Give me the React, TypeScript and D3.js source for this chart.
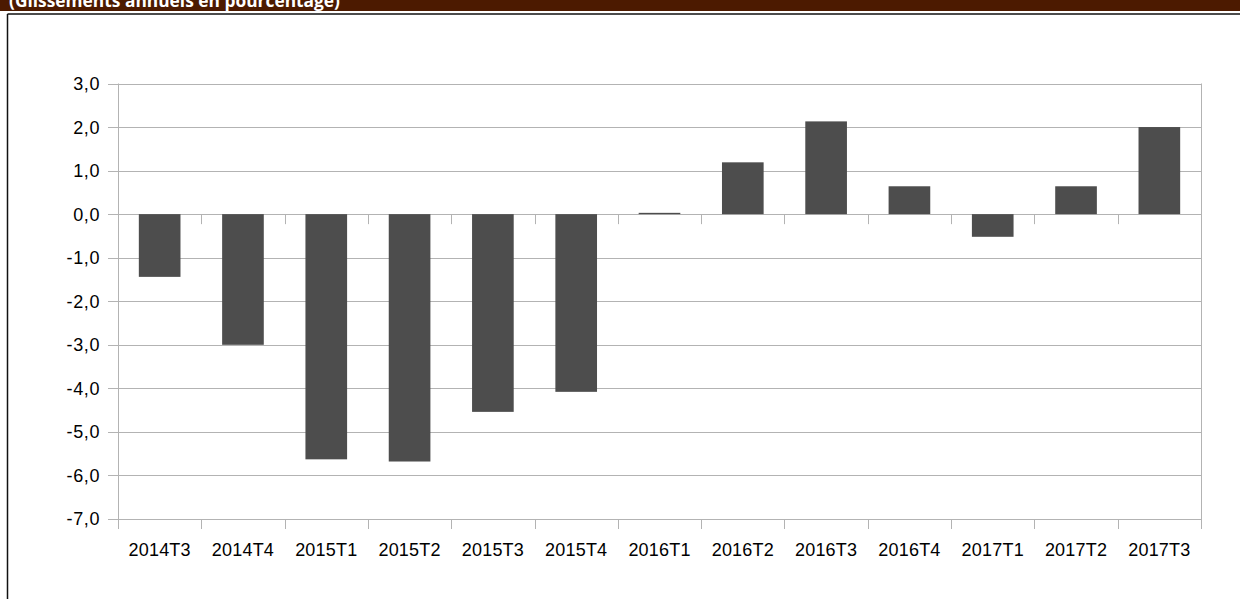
import * as d3 from 'd3';
import React, { useEffect, useRef } from 'react';

// Données (glissements annuels en %)
const quarters = [
  '2014T3', '2014T4', '2015T1', '2015T2', '2015T3', '2015T4', '2016T1',
  '2016T2', '2016T3', '2016T4', '2017T1', '2017T2', '2017T3',
];
const growth = [
  -1.44, -3.0, -5.63, -5.68, -4.54, -4.08, 0.03, 1.19, 2.13, 0.64, -0.52, 0.64, 2.0,
];
const yTicks = [3, 2, 1, 0, -1, -2, -3, -4, -5, -6, -7];
const title = '(Glissements annuels en pourcentage)';

const W = 1240;
const H = 599;

const App: React.FC = () => {
  const ref = useRef<SVGSVGElement | null>(null);

  useEffect(() => {
    if (!ref.current) return;
    const svg = d3.select(ref.current);
    svg.selectAll('*').remove();

    // Bandeau du titre (coupé en haut comme dans l'original)
    svg.append('rect').attr('x', 0).attr('y', 0).attr('width', W).attr('height', 11).attr('fill', '#4c1a00');
    svg
      .append('text')
      .attr('x', 9)
      .attr('y', 6.5)
      .attr('fill', '#fff')
      .attr('font-family', '"Open Sans", sans-serif')
      .attr('font-weight', 'bold')
      .attr('font-size', 17)
      .attr('textLength', 331)
      .attr('lengthAdjust', 'spacingAndGlyphs')
      .text(title);

    // Cadre
    svg.append('line').attr('x1', 7.5).attr('x2', W).attr('y1', 14).attr('y2', 14).attr('stroke', '#111').attr('stroke-width', 1.5);
    svg.append('line').attr('x1', 7.5).attr('x2', 7.5).attr('y1', 14).attr('y2', H).attr('stroke', '#111').attr('stroke-width', 1.5);

    const margin = { top: 83.5, left: 118, right: 1201, bottom: 519 };

    const x = d3.scaleBand<string>().domain(quarters).range([margin.left, margin.right]).paddingInner(0).paddingOuter(0);
    const y = d3.scaleLinear().domain([-7, 3]).range([margin.bottom, margin.top]);

    const grid = '#b3b3b3';
    const font = '"Liberation Sans", Arial, sans-serif';

    // Grille horizontale
    svg
      .append('g')
      .selectAll('line')
      .data(yTicks)
      .enter()
      .append('line')
      .attr('x1', margin.left - 10)
      .attr('x2', margin.right)
      .attr('y1', (d) => Math.round(y(d)) + 0.5)
      .attr('y2', (d) => Math.round(y(d)) + 0.5)
      .attr('stroke', grid)
      .attr('stroke-width', 1);

    // Bords gauche / droit
    [margin.left, margin.right].forEach((px) => {
      svg
        .append('line')
        .attr('x1', px + 0.5)
        .attr('x2', px + 0.5)
        .attr('y1', y(3))
        .attr('y2', y(-7) + 10)
        .attr('stroke', grid);
    });

    // Graduations de l'axe des catégories (à zéro et en bas)
    const bounds = quarters.slice(1).map((q) => x(q) as number);
    [0, -7].forEach((v) => {
      svg
        .append('g')
        .selectAll('line')
        .data(bounds)
        .enter()
        .append('line')
        .attr('x1', (d) => Math.round(d) + 0.5)
        .attr('x2', (d) => Math.round(d) + 0.5)
        .attr('y1', y(v))
        .attr('y2', y(v) + 10)
        .attr('stroke', grid);
    });

    // Barres
    const bw = x.bandwidth() * 0.5;
    svg
      .append('g')
      .selectAll('rect')
      .data(growth)
      .enter()
      .append('rect')
      .attr('x', (_, i) => (x(quarters[i]) as number) + (x.bandwidth() - bw) / 2)
      .attr('width', bw)
      .attr('y', (d) => y(Math.max(0, d)))
      .attr('height', (d) => Math.abs(y(d) - y(0)))
      .attr('fill', '#4d4d4d');

    // Étiquettes de l'axe Y
    svg
      .append('g')
      .selectAll('text')
      .data(yTicks)
      .enter()
      .append('text')
      .attr('x', 100)
      .attr('y', (d) => y(d))
      .attr('dy', '0.36em')
      .attr('text-anchor', 'end')
      .attr('font-family', font)
      .attr('font-size', 18)
      .attr('letter-spacing', 0.6)
      .attr('fill', '#000')
      .text((d) => d3.format('.1f')(d).replace('.', ',').replace('−', '-'));

    // Étiquettes de l'axe X
    svg
      .append('g')
      .selectAll('text')
      .data(quarters)
      .enter()
      .append('text')
      .attr('x', (d) => (x(d) as number) + x.bandwidth() / 2)
      .attr('y', 556)
      .attr('text-anchor', 'middle')
      .attr('font-family', font)
      .attr('font-size', 18)
      .attr('letter-spacing', 0.2)
      .attr('fill', '#000')
      .text((d) => d);
  }, []);

  return (
    <div style={{ position: 'fixed', left: 0, top: 0, width: W, height: H, background: '#fff' }}>
      <svg ref={ref} width={W} height={H} />
    </div>
  );
};

export default App;
